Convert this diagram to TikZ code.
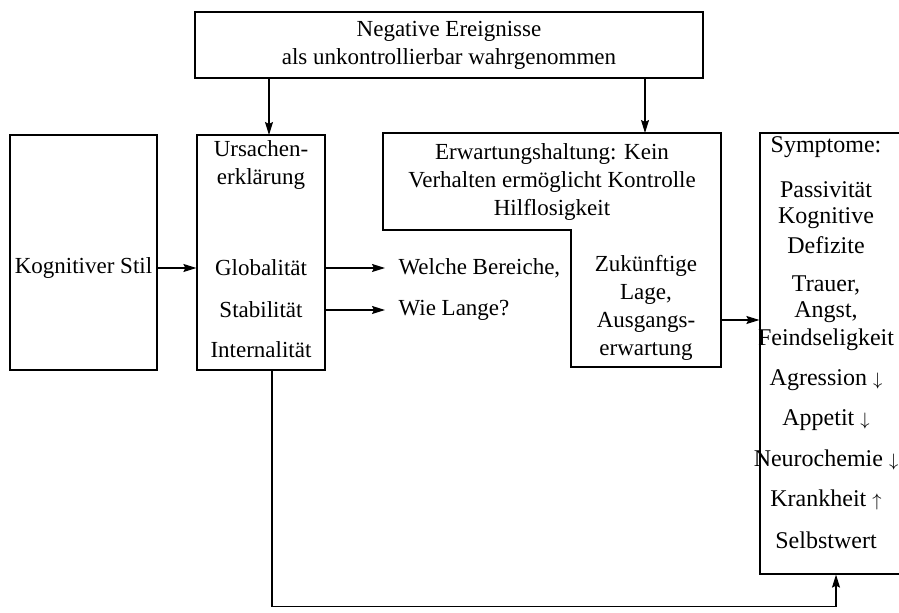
\documentclass[tikz,border=0pt]{standalone}
\usepackage{fontspec}
\setmainfont{Liberation Serif}
\usetikzlibrary{arrows.meta}

\begin{document}
\begin{tikzpicture}[x=0.5pt, y=-0.5pt, >={Stealth[length=6.5pt, width=4pt, inset=1pt]},
    line width=0.6pt,
    box/.style={draw, inner sep=0pt},
    txt/.style={font=\fontsize{11.5}{14}\selectfont, align=center, inner sep=0pt}]
    \useasboundingbox (0,0) rectangle (899,613);
    \clip (0,0) rectangle (899,613);
    % Top box
    \node[box, txt, minimum width=254pt, minimum height=33pt] (neg) at (449,45)
        {Negative Ereignisse\\als unkontrollierbar wahrgenommen};
    % Left boxes
    \node[box, minimum width=73.5pt, minimum height=117.5pt] (kog) at (83.5,252.5) {};
    \node[txt] (stil) at (83.5,268) {Kognitiver Stil};
    \node[box, minimum width=64pt, minimum height=117.5pt] (urs) at (261,252.5) {};
    \node[txt] (ursT) at (261,165) {Ursachen-\\erklärung};
    \node[txt] (glob) at (261,268) {Globalität};
    \node[txt] (stab) at (261,310) {Stabilität};
    \node[txt] (intern) at (261,350) {Internalität};
    \coordinate (ursN) at (269,135);
    % Questions
    \node[txt, anchor=west, inner xsep=6.5pt] (welche) at (385,268) {Welche Bereiche,};
    \node[txt, anchor=west, inner xsep=6.5pt] (lange) at (385,310) {Wie Lange?};
    % Expectation box (L-shaped)
    \draw (383,133) -- (721,133) -- (721,367) -- (571,367) -- (571,230) -- (383,230) -- cycle;
    \coordinate (erwN) at (645,133);
    \coordinate (erwE) at (721,320);
    \node[txt] (erw) at (552,182) {Erwartungshaltung: Kein\\Verhalten ermöglicht Kontrolle\\Hilflosigkeit};
    \node[txt] (zuk) at (646,307.5) {Zukünftige\\Lage,\\Ausgangs-\\erwartung};
    % Symptoms box
    \node[box, minimum width=90pt, minimum height=220.5pt] (sym) at (850,353.5) {};
    \foreach \t/\y [count=\i] in {{Symptome:}/147, {Passivität}/190, {Kognitive}/218, {Defizite}/245,
        {Trauer,}/285, {Angst,}/312, {Feindseligkeit}/340, {Agression {\small$\downarrow$}}/380,
        {Appetit {\small$\downarrow$}}/420, {Neurochemie {\small$\downarrow$}}/460,
        {Krankheit {\small$\uparrow$}}/500, {Selbstwert}/540}
        \node[txt, font=\fontsize{12}{14}\selectfont] (s\i) at (826,\y) {\t};
    % Arrows
    \draw[->] (neg.south -| ursN) -- (ursN);
    \draw[->] (neg.south -| erwN) -- (erwN);
    \draw[->] (kog.east |- stil) -- (urs.west |- stil);
    \draw[->] (urs.east |- welche) -- (welche.west);
    \draw[->] (urs.east |- lange) -- (lange.west);
    \draw[->] (erwE) -- (sym.west |- erwE);
    \draw[->] ([xshift=5.5pt]urs.south) -- ++(0,236) -| ([xshift=-7pt]sym.south);
\end{tikzpicture}
\end{document}
